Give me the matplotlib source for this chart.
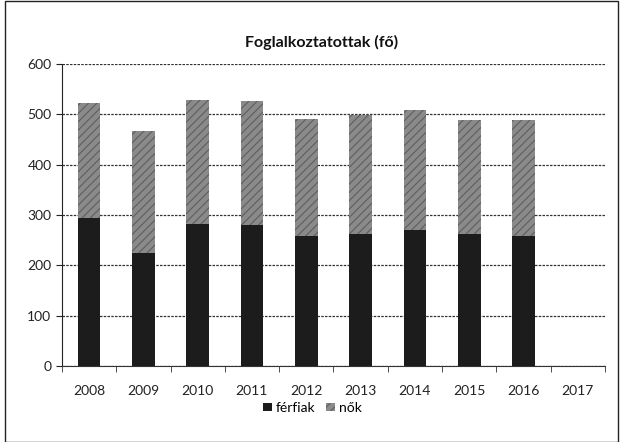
import matplotlib
matplotlib.use('Agg')
import numpy as np
import matplotlib.pyplot as plt
from matplotlib.patches import Rectangle

# Data
years = ['2008', '2009', '2010', '2011', '2012', '2013', '2014', '2015', '2016', '2017']
ferfiak = [295, 225, 282, 280, 258, 262, 270, 262, 258, 0]
nok = [228, 242, 246, 247, 232, 237, 239, 227, 231, 0]

plt.rcParams['font.family'] = ['Lato', 'DejaVu Sans']
plt.rcParams['hatch.linewidth'] = 0.8

fig = plt.figure(figsize=(6.25, 4.42), dpi=100)
ax = fig.add_axes([0.099, 0.172, 0.869, 0.683])

# outer border of the chart area
fig.patches.append(Rectangle((0.008, 0.0), 0.98, 0.998, transform=fig.transFigure,
                             fill=False, edgecolor='#222222', linewidth=1.0))

x = np.arange(len(years))
w = 0.42
plt.rcParams['hatch.color'] = '#4a4a4a'
ax.bar(x, ferfiak, w, color='#1c1c1c', edgecolor='#1c1c1c', linewidth=0,
       label='férfiak', zorder=3)
b2 = ax.bar(x, nok, w, bottom=ferfiak, color='#8a8a8a', linewidth=0,
            label='nők', zorder=3, hatch='////')
for p in b2:
    p.set_edgecolor('#5e5e5e')

ax.set_xlim(-0.5, len(years) - 0.5)
ax.set_ylim(0, 600)
ax.set_yticks(range(0, 601, 100))
ax.set_xticks(x)
ax.set_xticklabels(years)
ax.set_xticks(np.arange(-0.5, len(years), 1), minor=True)
ax.tick_params(axis='x', which='major', length=0, pad=14, labelsize=10, colors='#222222')
ax.tick_params(axis='x', which='minor', length=4, direction='out', color='#333333')
ax.tick_params(axis='y', length=4, labelsize=10, colors='#222222')

ax.grid(axis='y', color='#333333', linewidth=0.9, linestyle=(0, (2, 1)), zorder=0)
for s in ['top', 'right']:
    ax.spines[s].set_visible(False)
ax.spines['left'].set_color('#222222')
ax.spines['bottom'].set_color('#333333')

fig.text(0.515, 0.905, 'Foglalkoztatottak (fő)', ha='center', va='center',
         fontsize=11.5, fontweight='bold', color='#111111')

fig.legend(loc='center', bbox_to_anchor=(0.5, 0.077), ncol=2, frameon=False,
           fontsize=10, handlelength=0.6, handleheight=0.6, handletextpad=0.3,
           columnspacing=0.8)

fig.savefig('out.png', dpi=100)
